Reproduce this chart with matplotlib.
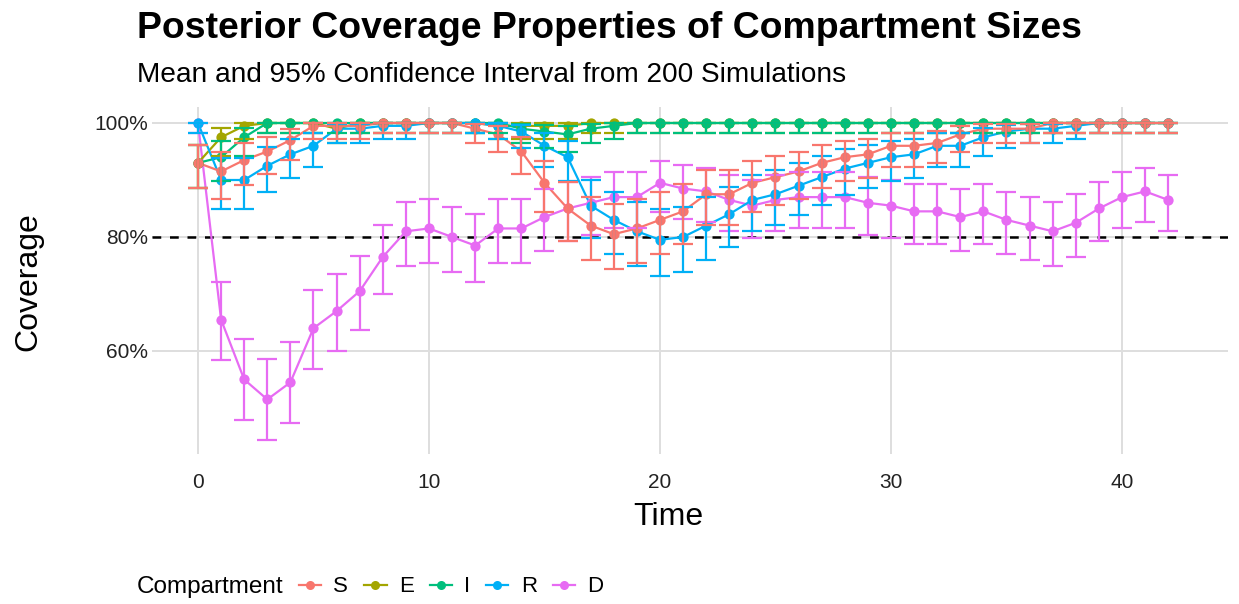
import math
import matplotlib
matplotlib.use("Agg")
import matplotlib.pyplot as plt
from matplotlib.lines import Line2D
from matplotlib.ticker import FuncFormatter

# ---------------- data (coverage in %) ----------------
time = list(range(43))
compartments = ["S", "E", "I", "R", "D"]
colors = ["#F8766D", "#A3A500", "#00BF7D", "#00B0F6", "#E76BF3"]
n_sims = 200

coverage_S = [93.0, 91.5, 93.5, 95.0, 97.0, 99.5, 99.5, 99.5, 100, 100,
              100, 100, 99.0, 98.0, 95.0, 89.5, 85.0, 82.0, 80.5, 81.5,
              83.0, 84.5, 87.5, 87.5, 89.5, 90.5, 91.5, 93.0, 94.0, 94.5,
              96.0, 96.0, 96.5, 98.0, 99.0, 99.0, 99.0, 100, 100, 100,
              100, 100, 100]
coverage_E = [93.0, 97.5, 99.5, 100, 100, 100, 99.0, 100, 100, 100,
              100, 100, 100, 99.5, 99.5, 99.5, 99.5, 100, 100, 100,
              100, 100, 100, 100, 100, 100, 100, 100, 100, 100,
              100, 100, 100, 100, 100, 100, 100, 100, 100, 100,
              100, 100, 100]
coverage_I = [93.0, 94.0, 97.5, 100, 100, 100, 100, 100, 100, 100,
              100, 100, 100, 100, 99.0, 98.5, 98.0, 99.0, 99.5, 100,
              100, 100, 100, 100, 100, 100, 100, 100, 100, 100,
              100, 100, 100, 100, 100, 100, 100, 100, 100, 100,
              100, 100, 100]
coverage_R = [100, 90.0, 90.0, 92.5, 94.5, 96.0, 99.0, 99.0, 99.5, 99.5,
              100, 100, 100, 99.5, 98.5, 96.0, 94.0, 85.5, 83.0, 81.0,
              79.5, 80.0, 82.0, 84.0, 86.5, 87.5, 89.0, 90.5, 92.0, 93.0,
              94.0, 94.5, 96.0, 96.0, 97.5, 98.5, 99.0, 99.0, 99.5, 100,
              100, 100, 100]
coverage_D = [100, 65.5, 55.0, 51.5, 54.5, 64.0, 67.0, 70.5, 76.5, 81.0,
              81.5, 80.0, 78.5, 81.5, 81.5, 83.5, 85.0, 86.0, 87.0, 87.0,
              89.5, 88.5, 88.0, 86.5, 85.5, 86.5, 87.0, 87.0, 87.0, 86.0,
              85.5, 84.5, 84.5, 83.5, 84.5, 83.0, 82.0, 81.0, 82.5, 85.0,
              87.0, 88.0, 86.5]
nominal_level = 80

series = [coverage_S, coverage_E, coverage_I, coverage_R, coverage_D]

# ---------------- exact binomial (Clopper-Pearson) interval ----------------
_cache = {}


def _cdf(k, n, p):
    return sum(math.comb(n, i) * p ** i * (1 - p) ** (n - i) for i in range(k + 1))


def cp_interval(k, n, alpha=0.05):
    if (k, n) in _cache:
        return _cache[(k, n)]
    if k == 0:
        lo = 0.0
    else:
        a, b = 0.0, 1.0
        for _ in range(50):
            m = (a + b) / 2
            if 1 - _cdf(k - 1, n, m) < alpha / 2:
                a = m
            else:
                b = m
        lo = (a + b) / 2
    if k == n:
        hi = 1.0
    else:
        a, b = 0.0, 1.0
        for _ in range(50):
            m = (a + b) / 2
            if _cdf(k, n, m) > alpha / 2:
                a = m
            else:
                b = m
        hi = (a + b) / 2
    _cache[(k, n)] = (lo, hi)
    return lo, hi


# ---------------- figure ----------------
W, H = 1239, 604
plt.rcParams["font.family"] = ["Liberation Sans", "DejaVu Sans"]
fig = plt.figure(figsize=(W / 100, H / 100), dpi=100)

L, R, T, B = 152, 1228, 107, 454
ax = fig.add_axes([L / W, 1 - B / H, (R - L) / W, (B - T) / H])
x0_px, x_unit = 198, 23.1
ax.set_xlim((L - x0_px) / x_unit, (R - x0_px) / x_unit)
y100_px, y_unit = 123, 5.7
ax.set_ylim(100 - (B - y100_px) / y_unit, 100 + (y100_px - T) / y_unit)

for s in ax.spines.values():
    s.set_visible(False)
ax.set_xticks([0, 10, 20, 30, 40])
ax.set_yticks([60, 80, 100])
ax.yaxis.set_major_formatter(FuncFormatter(lambda v, _: f"{v:.0f}%"))
ax.grid(True, color="#DEDEDE", linewidth=1.4)
ax.set_axisbelow(True)
ax.tick_params(length=0, labelsize=15, labelcolor="#222222")
ax.tick_params(axis="y", pad=3)
ax.tick_params(axis="x", pad=14)

ax.axhline(nominal_level, color="black", linewidth=1.8, linestyle=(0, (3.5, 3.5)), zorder=2)

lw = 1.6
# drawing order follows alphabetical group order: D, E, I, R, S (S on top)
order = sorted(range(len(series)), key=lambda i: compartments[i])
for i in order:
    ax.plot(time, series[i], color=colors[i], linewidth=lw, zorder=3)
for i in order:
    ax.plot(time, series[i], linestyle="none", marker="o", markersize=7.4,
            color=colors[i], markeredgewidth=0, zorder=4)
for i in order:
    vals = series[i]
    lo_e, hi_e = [], []
    for v in vals:
        k = int(round(v / 100 * n_sims))
        lo, hi = cp_interval(k, n_sims)
        lo_e.append(v - lo * 100)
        hi_e.append(hi * 100 - v)
    ax.errorbar(time, vals, yerr=[lo_e, hi_e], fmt="none", ecolor=colors[i],
                elinewidth=1.6, capsize=7.2, capthick=1.6, zorder=5)

ax.set_xlabel("Time", fontsize=23, va="center")
ax.xaxis.set_label_coords((668 - L) / (R - L), -(517 - B) / (B - T))
ax.set_ylabel("Coverage", fontsize=23, va="center")
ax.yaxis.set_label_coords((28 - L) / (R - L), 1 - (282 - T) / (B - T))

fig.text(137 / W, 1 - 28 / H, "Posterior Coverage Properties of Compartment Sizes",
         fontsize=26.9, fontweight="bold", ha="left", va="center")
fig.text(137 / W, 1 - 75 / H, "Mean and 95% Confidence Interval from 200 Simulations",
         fontsize=20.2, ha="left", va="center")

# legend
fig.text(137 / W, 1 - 587 / H, "Compartment", fontsize=17.5, ha="left", va="center")
handles = [Line2D([0], [0], color=c, linewidth=lw, marker="o", markersize=6.5,
                  markeredgewidth=0) for c in colors]
fig.legend(handles, compartments, loc="center left",
           bbox_to_anchor=(299 / W, 1 - 587 / H), ncol=5, frameon=False,
           fontsize=16, handlelength=1.0, handletextpad=0.55,
           columnspacing=0.72, borderaxespad=0, borderpad=0)

fig.savefig("out.png", dpi=100)
